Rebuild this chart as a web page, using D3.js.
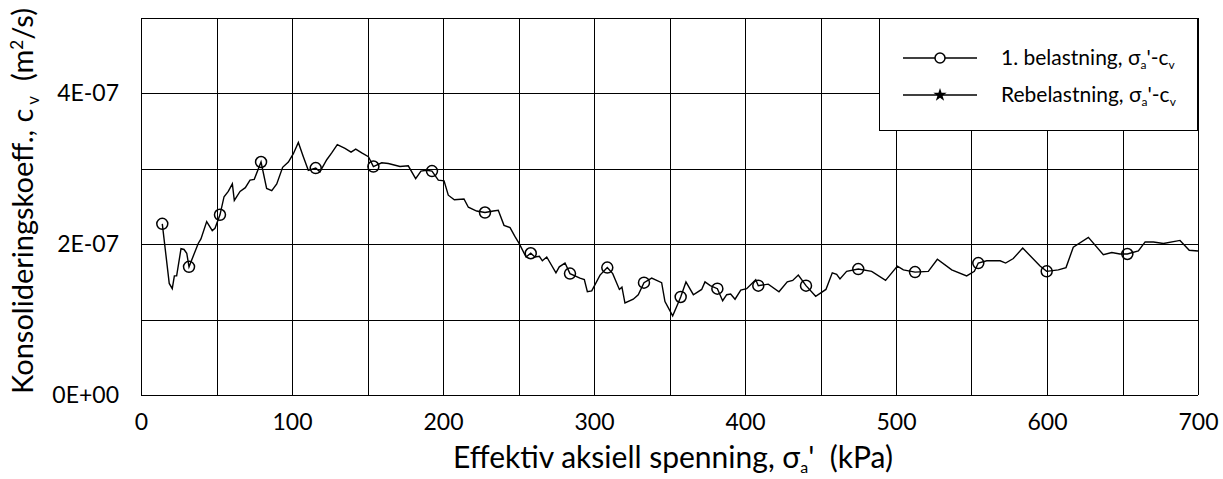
<!DOCTYPE html>
<html>
<head>
<meta charset="utf-8">
<script src="https://cdn.jsdelivr.net/npm/d3@7"></script>
<style>
  html, body { margin: 0; padding: 0; background: #fff; }
  svg { display: block; font-family: Lato, "Open Sans", sans-serif; }
</style>
</head>
<body>
<svg id="chart" width="1223" height="479"></svg>
<script>
// ---- data ----
const stress = [14.1, 18.7, 20.7, 22.1, 23.6, 26.5, 28.5, 30.3, 31.8, 37.9, 39.7, 43.5, 47.2, 49.0, 52.3, 55.0, 57.8, 60.5, 61.8, 65.6, 69.1, 72.2, 75.0, 79.5, 83.2, 86.6, 89.9, 93.8, 97.6, 100.9, 104.2, 107.5, 110.8, 115.7, 118.5, 123, 126.3, 130, 135.1, 139.1, 142.2, 146.2, 150.6, 153.9, 159.4, 163.8, 171.5, 177, 181.9, 185.4, 189.2, 192.7, 196.9, 200.7, 203.5, 207.5, 213.9, 216.8, 222.3, 227.8, 233.3, 236.6, 240.4, 244.4, 247.7, 250.4, 255, 258.1, 260.9, 263.8, 265.8, 268.7, 274.8, 277, 280.8, 284.1, 290.7, 293.6, 295.6, 298.5, 304, 308.8, 312.4, 316.8, 318.5, 320.5, 326, 329.3, 333.1, 338.2, 344.8, 347, 352.1, 354.7, 357.4, 360.9, 365.8, 371.3, 373.5, 377, 381.7, 385.2, 387.9, 390.5, 393.4, 397.2, 401.1, 407.1, 408.8, 415.4, 422.5, 428, 431.6, 435.3, 440.4, 446.8, 453.6, 457.8, 460.7, 462.9, 467.3, 475, 483.9, 493.1, 500.9, 504.9, 512.6, 521.4, 527.4, 536.9, 546.8, 551.9, 554.5, 560.1, 569, 572.6, 577.7, 583.9, 595.4, 599.8, 607.5, 612.6, 617.4, 627.4, 637.3, 642.9, 648.3, 653.2, 660.5, 665, 670.5, 677.1, 688.1, 694.2, 700];
const cvE7 = [2.27, 1.48, 1.41, 1.58, 1.58, 1.94, 1.93, 1.88, 1.70, 2.01, 2.07, 2.30, 2.18, 2.21, 2.39, 2.63, 2.70, 2.80, 2.58, 2.70, 2.75, 2.85, 2.86, 3.09, 2.74, 2.71, 2.80, 3.02, 3.09, 3.20, 3.35, 3.16, 2.98, 3.01, 2.96, 3.12, 3.21, 3.32, 3.27, 3.22, 3.26, 3.21, 3.16, 3.03, 3.08, 3.07, 3.03, 3.04, 2.87, 2.97, 2.98, 2.97, 2.85, 2.84, 2.65, 2.59, 2.60, 2.49, 2.44, 2.42, 2.44, 2.45, 2.25, 2.22, 2.10, 2.01, 1.83, 1.88, 1.83, 1.84, 1.78, 1.83, 1.62, 1.70, 1.75, 1.61, 1.55, 1.53, 1.37, 1.38, 1.59, 1.69, 1.61, 1.40, 1.43, 1.22, 1.27, 1.33, 1.49, 1.55, 1.49, 1.24, 1.05, 1.17, 1.30, 1.50, 1.33, 1.40, 1.50, 1.45, 1.41, 1.25, 1.33, 1.34, 1.27, 1.39, 1.41, 1.53, 1.45, 1.47, 1.37, 1.50, 1.52, 1.59, 1.45, 1.31, 1.40, 1.62, 1.60, 1.54, 1.64, 1.67, 1.64, 1.52, 1.71, 1.66, 1.63, 1.64, 1.80, 1.66, 1.58, 1.64, 1.75, 1.78, 1.78, 1.75, 1.81, 1.95, 1.71, 1.64, 1.66, 1.69, 1.96, 2.09, 1.86, 1.89, 1.87, 1.87, 1.91, 2.03, 2.03, 2.01, 2.05, 1.92, 1.91];
// stresses where the circle markers sit (subset of the points above)
const markerStress = [14.1, 31.8, 52.3, 79.5, 115.7, 153.9, 192.7, 227.8, 258.1, 284.1, 308.8, 333.1, 357.4, 381.7, 408.8, 440.4, 475, 512.6, 554.5, 599.8, 653.2];
const xTickLabels = [0, 100, 200, 300, 400, 500, 600, 700];
const yTickLabels = ["0E+00", "2E-07", "4E-07"];
const yTickValues = [0, 2e-7, 4e-7];
const legendLabels = ["1. belastning, ", "Rebelastning, "];

// ---- layout ----
const svg = d3.select("#chart");
const L = 141, T = 18, R = 1198, B = 395;
const x = d3.scaleLinear().domain([0, 700]).range([L, R]);
const y = d3.scaleLinear().domain([0, 5e-7]).range([B, T]);

const pts = stress.map((s, i) => ({ x: s, y: cvE7[i] * 1e-7 }));
const mk = markerStress.map(s => pts[stress.indexOf(s)]);

// grid
const grid = svg.append("g").attr("stroke", "#000").attr("stroke-width", 1).attr("shape-rendering", "crispEdges");
d3.range(0, 701, 50).forEach(v => {
  grid.append("line").attr("x1", Math.round(x(v)) + 0.5).attr("x2", Math.round(x(v)) + 0.5).attr("y1", T).attr("y2", B);
});
d3.range(0, 6).forEach(k => {
  const v = k * 1e-7;
  grid.append("line").attr("x1", L).attr("x2", R).attr("y1", Math.round(y(v)) + 0.5).attr("y2", Math.round(y(v)) + 0.5);
});

// axes (labels only)
const xAxis = d3.axisBottom(x).tickValues(xTickLabels).tickSize(0).tickPadding(0).tickFormat(d3.format("d"));
const gx = svg.append("g").attr("transform", `translate(0,${B})`).call(xAxis);
gx.select(".domain").remove();
gx.selectAll("text").attr("font-size", 23).attr("font-family", "Lato").attr("fill", "#000").attr("dy", "1.5em");

const yAxis = d3.axisLeft(y).tickValues(yTickValues).tickSize(0).tickPadding(22).tickFormat((d, i) => yTickLabels[i]);
const gy = svg.append("g").attr("transform", `translate(${L},0)`).call(yAxis);
gy.select(".domain").remove();
gy.selectAll("text").attr("font-size", 23).attr("font-family", "Lato").attr("fill", "#000");

// line
const line = d3.line().x(d => x(d.x)).y(d => y(d.y));
svg.append("path").datum(pts).attr("d", line).attr("fill", "none").attr("stroke", "#000").attr("stroke-width", 1.4).attr("stroke-linejoin", "miter");

// circle markers
svg.append("g").selectAll("circle").data(mk).join("circle")
  .attr("cx", d => x(d.x)).attr("cy", d => y(d.y)).attr("r", 5.5)
  .attr("fill", "none").attr("stroke", "#000").attr("stroke-width", 1.5);

// legend
const lg = svg.append("g");
lg.append("rect").attr("x", 879.5).attr("y", 18.5).attr("width", 318).attr("height", 112)
  .attr("fill", "#fff").attr("stroke", "#000").attr("stroke-width", 1);
const rows = [58, 95];
rows.forEach((ry, i) => {
  lg.append("line").attr("x1", 903).attr("x2", 977).attr("y1", ry).attr("y2", ry).attr("stroke", "#000").attr("stroke-width", 1.3);
  if (i === 0) {
    lg.append("circle").attr("cx", 940).attr("cy", ry).attr("r", 5).attr("fill", "#fff").attr("stroke", "#000").attr("stroke-width", 1.5);
  } else {
    lg.append("path").attr("d", d3.symbol().type(d3.symbolStar).size(55)()).attr("transform", `translate(940,${ry})`).attr("fill", "#000");
  }
  const t = lg.append("text").attr("x", 1001).attr("y", ry + 7).attr("font-size", 21).attr("fill", "#000");
  t.append("tspan").text(legendLabels[i]);
  t.append("tspan").text("σ");
  t.append("tspan").attr("font-size", 12).attr("dy", 4).text("a");
  t.append("tspan").attr("dy", -4).text("'-c");
  t.append("tspan").attr("font-size", 12).attr("dy", 4).text("v");
});

// axis titles
const xt = svg.append("text").attr("x", 673).attr("y", 468).attr("text-anchor", "middle").attr("font-size", 30).attr("fill", "#000");
xt.append("tspan").text("Effektiv aksiell spenning, σ");
xt.append("tspan").attr("font-size", 16).attr("dy", 5).text("a");
xt.append("tspan").attr("dy", -5).text("'\u00A0\u00A0(kPa)");

const yt = svg.append("text").attr("transform", "translate(33,201) rotate(-90)").attr("text-anchor", "middle").attr("font-size", 29).attr("fill", "#000");
yt.append("tspan").text("Konsolideringskoeff., c");
yt.append("tspan").attr("font-size", 17).attr("dy", 6).text("\u00A0v");
yt.append("tspan").attr("dy", -6).text("\u00A0\u00A0(m");
yt.append("tspan").attr("font-size", 17).attr("dy", -10).text("2");
yt.append("tspan").attr("dy", 10).text("/s)");
</script>
</body>
</html>
